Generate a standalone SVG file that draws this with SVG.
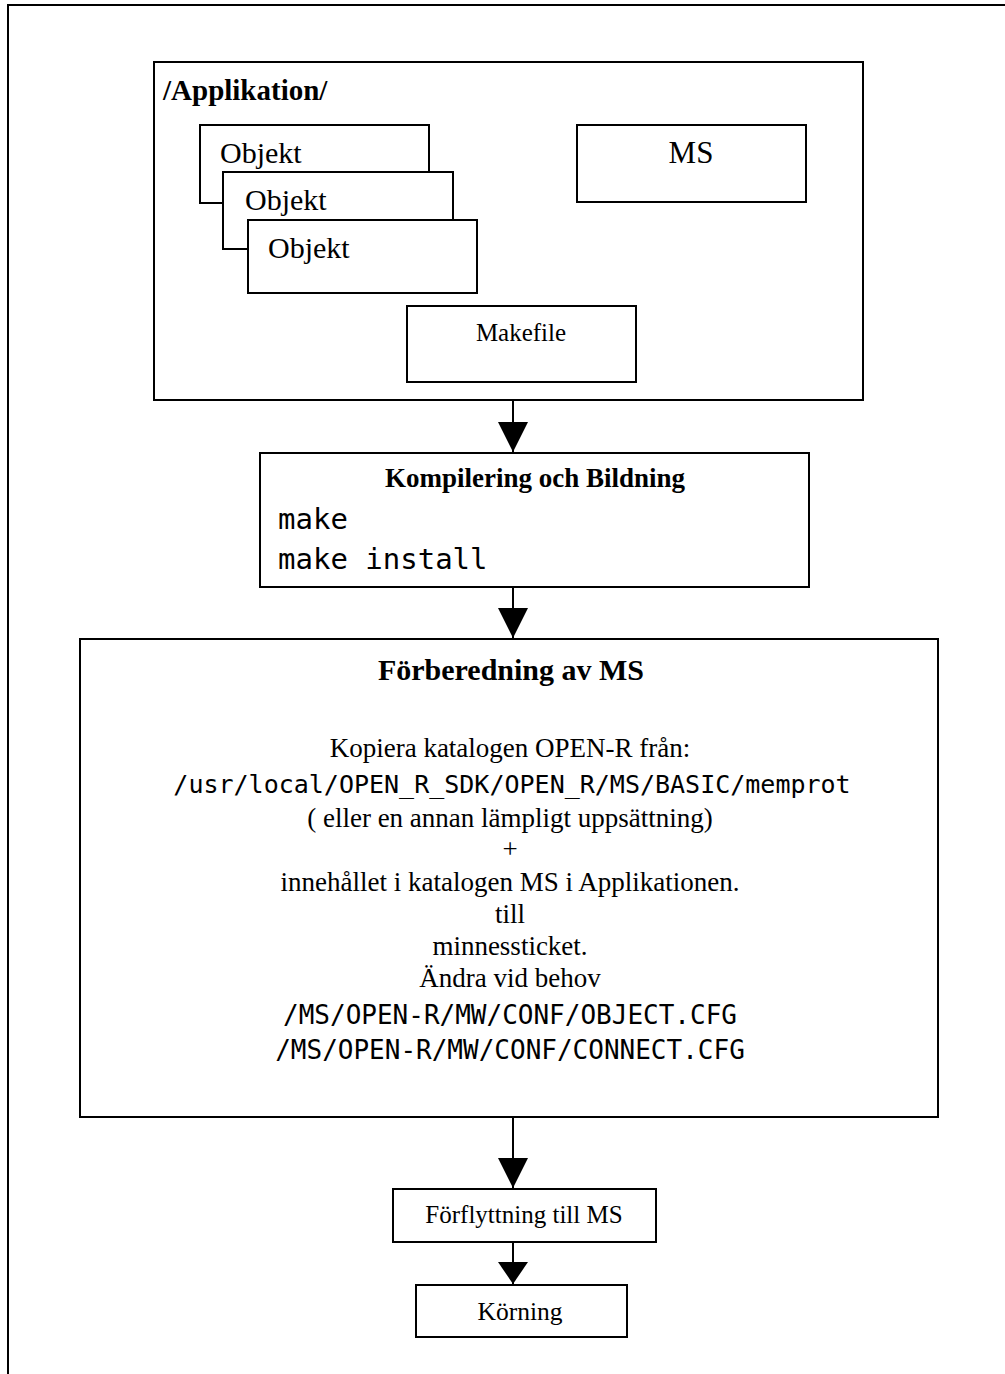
<svg xmlns="http://www.w3.org/2000/svg" width="1005" height="1374" viewBox="0 0 1005 1374">
<style>
.box{fill:#fff;stroke:#000;stroke-width:2}
.t{font-family:"Liberation Serif","Times New Roman",serif;fill:#000}
.b{font-weight:bold}
.m{font-family:"DejaVu Sans Mono","Liberation Mono",monospace;fill:#000}
.c{text-anchor:middle}
.ln{stroke:#000;stroke-width:2;fill:none}
</style>
<defs>
<marker id="ah" markerUnits="userSpaceOnUse" markerWidth="30" markerHeight="30" viewBox="0 0 30 30" refX="30" refY="15" orient="auto"><path d="M0,0 L30,15 L0,30 Z" fill="#000"/></marker>
<marker id="ahs" markerUnits="userSpaceOnUse" markerWidth="22" markerHeight="30" viewBox="0 0 22 30" refX="22" refY="15" orient="auto"><path d="M0,0 L22,15 L0,30 Z" fill="#000"/></marker>
</defs>
<rect width="1005" height="1374" fill="#fff"/>
<path d="M8,1374 V5 H1005" class="ln"/>
<g id="applikation">
<rect x="154" y="62" width="709" height="338" class="box"/>
<text x="163" y="100" class="t b" font-size="29">/Applikation/</text>
</g>
<g id="objekt1">
<rect x="200" y="125" width="229" height="78" class="box"/>
<text x="220" y="163" class="t" font-size="30">Objekt</text>
</g>
<g id="objekt2">
<rect x="223" y="172" width="230" height="77" class="box"/>
<text x="245" y="210" class="t" font-size="30">Objekt</text>
</g>
<g id="objekt3">
<rect x="248" y="220" width="229" height="73" class="box"/>
<text x="268" y="258" class="t" font-size="30">Objekt</text>
</g>
<g id="ms">
<rect x="577" y="125" width="229" height="77" class="box"/>
<text x="691" y="163" class="t c" font-size="31">MS</text>
</g>
<g id="makefile">
<rect x="407" y="306" width="229" height="76" class="box"/>
<text x="521" y="341" class="t c" font-size="25">Makefile</text>
</g>
<g id="kompilering">
<rect x="260" y="453" width="549" height="134" class="box"/>
<text x="535" y="487" class="t b c" font-size="27">Kompilering och Bildning</text>
<text x="278" y="529" class="m" font-size="29">make</text>
<text x="278" y="569" class="m" font-size="29">make install</text>
</g>
<g id="forberedning">
<rect x="80" y="639" width="858" height="478" class="box"/>
<text x="511" y="680" class="t b c" font-size="30">Förberedning av MS</text>
<text x="510" y="757" class="t c" font-size="27">Kopiera katalogen OPEN-R från:</text>
<text x="512" y="793" class="m c" font-size="25">/usr/local/OPEN_R_SDK/OPEN_R/MS/BASIC/memprot</text>
<text x="510" y="827" class="t c" font-size="27">( eller en annan lämpligt uppsättning)</text>
<text x="510" y="858" class="t c" font-size="27">+</text>
<text x="510" y="891" class="t c" font-size="27">innehållet i katalogen MS i Applikationen.</text>
<text x="510" y="923" class="t c" font-size="27">till</text>
<text x="510" y="955" class="t c" font-size="27">minnessticket.</text>
<text x="510" y="987" class="t c" font-size="27">Ändra vid behov</text>
<text x="510" y="1024" class="m c" font-size="26">/MS/OPEN-R/MW/CONF/OBJECT.CFG</text>
<text x="510" y="1059" class="m c" font-size="26">/MS/OPEN-R/MW/CONF/CONNECT.CFG</text>
</g>
<g id="forflyttning">
<rect x="393" y="1189" width="263" height="53" class="box"/>
<text x="524" y="1223" class="t c" font-size="25">Förflyttning till MS</text>
</g>
<g id="korning">
<rect x="416" y="1285" width="211" height="52" class="box"/>
<text x="520" y="1320" class="t c" font-size="25.5">Körning</text>
</g>
<g id="connectors">
<line x1="513" y1="400" x2="513" y2="452" class="ln" marker-end="url(#ah)"/>
<line x1="513" y1="587" x2="513" y2="638" class="ln" marker-end="url(#ah)"/>
<line x1="513" y1="1117" x2="513" y2="1188" class="ln" marker-end="url(#ah)"/>
<line x1="513" y1="1242" x2="513" y2="1284" class="ln" marker-end="url(#ahs)"/>
</g>
</svg>
